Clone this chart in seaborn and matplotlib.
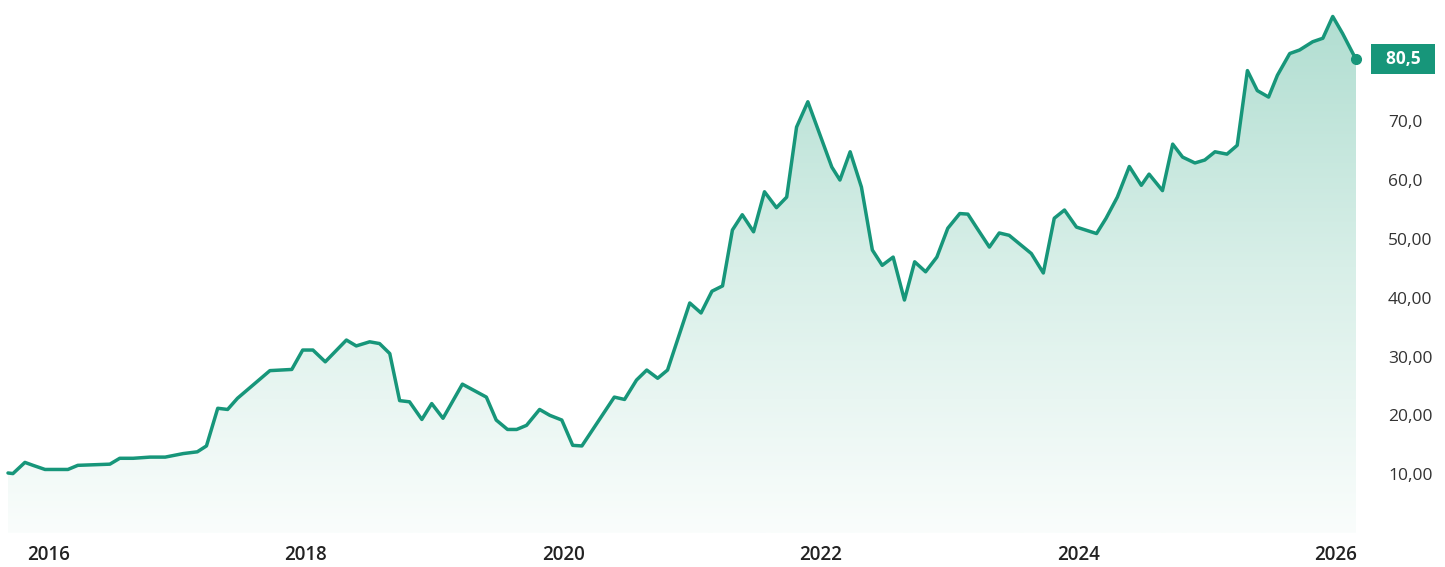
import numpy as np
import pandas as pd
import matplotlib
matplotlib.use("Agg")
import matplotlib.pyplot as plt
import matplotlib.dates as mdates
from matplotlib.colors import LinearSegmentedColormap
import seaborn as sns

# ===================== Daten =====================
dates = [
    "2015-09-09", "2015-09-23", "2015-10-27", "2015-11-19", "2015-12-23",
    "2016-02-26", "2016-03-25", "2016-06-24", "2016-07-22", "2016-08-29",
    "2016-10-16", "2016-11-28", "2017-01-18", "2017-02-27", "2017-03-25",
    "2017-04-26", "2017-05-24", "2017-06-21", "2017-09-21", "2017-11-22",
    "2017-12-23", "2018-01-21", "2018-02-25", "2018-04-26", "2018-05-24",
    "2018-07-01", "2018-07-29", "2018-08-27", "2018-09-24", "2018-10-22",
    "2018-11-26", "2018-12-24", "2019-01-25", "2019-03-21", "2019-05-28",
    "2019-06-25", "2019-07-27", "2019-08-22", "2019-09-19", "2019-10-26",
    "2019-11-24", "2019-12-28", "2020-01-28", "2020-02-23", "2020-05-25",
    "2020-06-23", "2020-07-27", "2020-08-25", "2020-09-25", "2020-10-23",
    "2020-12-25", "2021-01-26", "2021-02-26", "2021-03-28", "2021-04-25",
    "2021-05-23", "2021-06-24", "2021-07-25", "2021-08-28", "2021-09-26",
    "2021-10-24", "2021-11-25", "2022-02-01", "2022-02-24", "2022-03-25",
    "2022-04-26", "2022-05-27", "2022-06-24", "2022-07-25", "2022-08-26",
    "2022-09-24", "2022-10-25", "2022-11-26", "2022-12-27", "2023-01-30",
    "2023-02-22", "2023-03-20", "2023-04-24", "2023-05-22", "2023-06-19",
    "2023-08-21", "2023-09-24", "2023-10-25", "2023-11-23", "2023-12-27",
    "2024-02-22", "2024-03-20", "2024-04-21", "2024-05-25", "2024-06-28",
    "2024-07-20", "2024-08-27", "2024-09-25", "2024-10-23", "2024-11-27",
    "2024-12-25", "2025-01-23", "2025-02-26", "2025-03-27", "2025-04-25",
    "2025-05-23", "2025-06-24", "2025-07-19", "2025-08-23", "2025-09-20",
    "2025-10-27", "2025-11-25", "2025-12-23", "2026-01-20", "2026-02-27",
]
values = [
    10.2, 10.1, 12.0, 11.5, 10.8,
    10.8, 11.5, 11.7, 12.7, 12.7,
    12.9, 12.9, 13.5, 13.8, 14.8,
    21.2, 21.0, 22.9, 27.6, 27.8,
    31.1, 31.1, 29.1, 32.8, 31.8,
    32.5, 32.2, 30.5, 22.5, 22.3,
    19.3, 22.0, 19.5, 25.3, 23.1,
    19.2, 17.6, 17.6, 18.3, 21.0,
    20.0, 19.2, 14.9, 14.8, 23.1,
    22.7, 26.0, 27.7, 26.3, 27.7,
    39.1, 37.4, 41.1, 42.0, 51.5,
    54.1, 51.2, 58.0, 55.3, 57.1,
    69.0, 73.3, 62.2, 60.0, 64.8,
    58.8, 48.1, 45.5, 46.9, 39.6,
    46.1, 44.4, 46.9, 51.8, 54.3,
    54.2, 51.8, 48.6, 51.0, 50.6,
    47.5, 44.2, 53.5, 54.9, 52.0,
    50.9, 53.5, 57.1, 62.3, 59.1,
    61.0, 58.2, 66.1, 63.9, 62.9,
    63.4, 64.8, 64.4, 65.9, 78.6,
    75.2, 74.1, 77.8, 81.5, 82.1,
    83.5, 84.1, 87.8, 84.9, 80.5,
]
y_ticks = [10, 20, 30, 40, 50, 60, 70]
y_tick_labels = ["10,00", "20,00", "30,00", "40,00", "50,00", "60,0", "70,0"]
x_tick_years = [2016, 2018, 2020, 2022, 2024, 2026]
last_label = "80,5"

LINE_COLOR = "#17967a"
Y_TOP = 90.6

df = pd.DataFrame({"date": pd.to_datetime(dates), "value": values})

sns.set_theme(style="white")
plt.rcParams["font.family"] = ["Open Sans", "DejaVu Sans"]

fig = plt.figure(figsize=(14.45, 5.67), dpi=100)
ax = fig.add_axes([8 / 1445, 34 / 567, 1348 / 1445, 533 / 567])

x_num = mdates.date2num(df["date"])

# Flaeche mit Farbverlauf (Polygon als Clip-Pfad)
poly = ax.fill_between(df["date"], df["value"], 0, color="none", lw=0)
cmap = LinearSegmentedColormap.from_list("fade", ["#fafdfc", "#d8efe8", "#afddd0"])
grad = np.linspace(0, 1, 256).reshape(-1, 1)
img = ax.imshow(grad, cmap=cmap, aspect="auto", origin="lower",
                extent=[x_num[0], x_num[-1], 0, Y_TOP], zorder=1)
img.set_clip_path(poly.get_paths()[0], transform=ax.transData)

sns.lineplot(data=df, x="date", y="value", color=LINE_COLOR, lw=2.5, ax=ax, zorder=3)
for ln in ax.lines:
    ln.set_clip_on(False)
    ln.set_solid_joinstyle("round")

# Endpunkt + Wertlabel
ax.plot(df["date"].iloc[-1], df["value"].iloc[-1], "o", ms=7, color=LINE_COLOR,
        clip_on=False, zorder=4)
ax.annotate("  " + last_label + "  ", xy=(df["date"].iloc[-1], df["value"].iloc[-1]),
            xytext=(47, 0), textcoords="offset pixels", ha="center", va="center",
            color="white", fontsize=12.5, fontweight="bold", annotation_clip=False,
            bbox=dict(boxstyle="square,pad=0.35", fc=LINE_COLOR, ec="none"))

ax.set_xlim(x_num[0], x_num[-1])
ax.set_ylim(0, Y_TOP)

ax.yaxis.tick_right()
ax.set_yticks(y_ticks, y_tick_labels)
ax.set_xticks([pd.Timestamp(f"{y}-01-01") for y in x_tick_years],
              [str(y) for y in x_tick_years])
ax.tick_params(axis="y", length=0, pad=23, labelsize=12.5, labelcolor="#333333")
ax.tick_params(axis="x", length=0, pad=9, labelsize=13.5, labelcolor="#222222")
for lab in ax.get_xticklabels():
    lab.set_fontweight("semibold")

ax.set_xlabel("")
ax.set_ylabel("")
for sp in ax.spines.values():
    sp.set_visible(False)

fig.savefig("out.png", dpi=100)
